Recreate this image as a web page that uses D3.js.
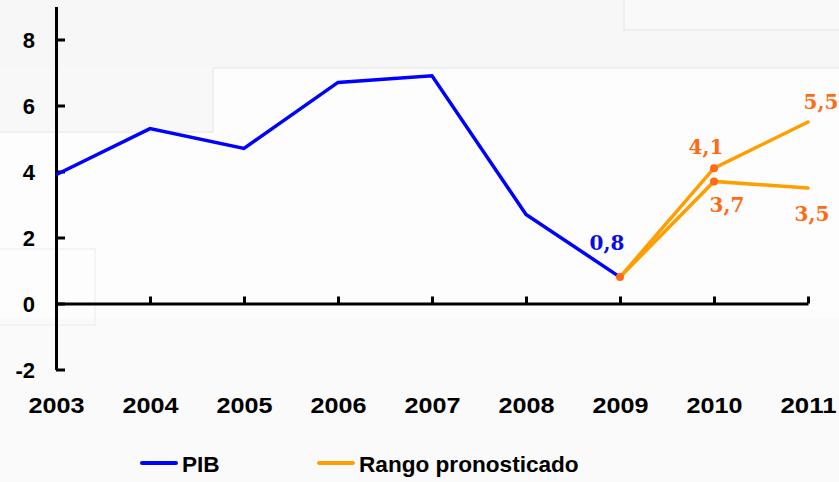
<!DOCTYPE html>
<html>
<head>
<meta charset="utf-8">
<script src="https://cdn.jsdelivr.net/npm/d3@7"></script>
<style>
  html, body { margin: 0; padding: 0; background: #fafafa; }
  svg { display: block; }
</style>
</head>
<body>
<div id="chart"></div>
<script>
// data
var years = [2003, 2004, 2005, 2006, 2007, 2008, 2009, 2010, 2011];
var pib = [3.9, 5.3, 4.7, 6.7, 6.9, 2.7, 0.8];
var rangoYears = [2009, 2010, 2011];
var rangoAlto = [0.8, 4.1, 5.5];
var rangoBajo = [0.8, 3.7, 3.5];
var yTicks = [-2, 0, 2, 4, 6, 8];
var legendNames = ["PIB", "Rango pronosticado"];

var width = 839, height = 482;
var blue = "#0000ff", orange = "#ff9e00", dotOrange = "#ff6a13";

var svg = d3.select("#chart")
    .append("svg")
    .attr("width", width)
    .attr("height", height);

// faint background panels (as in the picture)
var bg = svg.append("g");
bg.append("rect").attr("width", width).attr("height", height).attr("fill", "#fafafa");
bg.append("rect").attr("x", 0).attr("y", 68).attr("width", width).attr("height", 250).attr("fill", "#fdfdfd");
bg.append("rect").attr("x", 0).attr("y", 0).attr("width", width).attr("height", 68).attr("fill", "#f7f7f7");
bg.append("rect").attr("x", 0).attr("y", 68).attr("width", 213).attr("height", 64).attr("fill", "#f8f8f8");
bg.append("path").attr("d", "M0,132H213V68H839").attr("fill", "none").attr("stroke", "#ebebeb").attr("stroke-width", 1.5);
bg.append("rect").attr("x", 624).attr("y", -2).attr("width", 220).attr("height", 32)
    .attr("fill", "#f9f9f9").attr("stroke", "#ebebeb").attr("stroke-width", 1.5);
bg.append("rect").attr("x", -2).attr("y", 249).attr("width", 97).attr("height", 76)
    .attr("fill", "none").attr("stroke", "#efefef").attr("stroke-width", 1.2);

// scales
var x = d3.scaleLinear().domain([2003, 2011]).range([56, 808]);
var y = d3.scaleLinear().domain([-2, 9]).range([369.5, 6.5]);

// Y axis, ticks pointing right, labels on the left (plain hyphen for -2)
var yAxis = svg.append("g")
    .attr("transform", "translate(" + x(2003) + ",0)")
    .call(d3.axisLeft(y).tickValues(yTicks).tickFormat(function (d) { return String(d); })
        .tickSize(-9).tickSizeOuter(0).tickPadding(21));
yAxis.select(".domain").attr("stroke", "#000").attr("stroke-width", 3);
yAxis.selectAll(".tick line").attr("stroke", "#000").attr("stroke-width", 3);
yAxis.selectAll("text")
    .attr("font-family", "Liberation Sans, Arial, sans-serif")
    .attr("font-weight", "bold")
    .attr("font-size", "22px")
    .attr("dy", "0.36em")
    .attr("fill", "#000");

// X axis on the zero line, ticks pointing up
var xAxis = svg.append("g")
    .attr("transform", "translate(0," + y(0) + ")")
    .call(d3.axisBottom(x).tickValues(years).tickFormat(d3.format("d"))
        .tickSize(-7).tickSizeOuter(0).tickPadding(94));
xAxis.select(".domain").attr("stroke", "#000").attr("stroke-width", 3);
xAxis.selectAll(".tick line").attr("stroke", "#000").attr("stroke-width", 3);
xAxis.selectAll("text")
    .attr("font-family", "Liberation Sans, Arial, sans-serif")
    .attr("font-weight", "bold")
    .attr("font-size", "22px")
    .attr("textLength", 56)
    .attr("lengthAdjust", "spacingAndGlyphs")
    .attr("fill", "#000");

// lines
var line = d3.line()
    .x(function (d) { return x(d[0]); })
    .y(function (d) { return y(d[1]); });

function pairs(xs, vs) {
    return vs.map(function (v, i) { return [xs[i], v]; });
}

svg.append("path")
    .datum(pairs(years, pib))
    .attr("fill", "none")
    .attr("stroke", blue)
    .attr("stroke-width", 3.5)
    .attr("stroke-linejoin", "miter")
    .attr("d", line);

[rangoAlto, rangoBajo].forEach(function (serie) {
    svg.append("path")
        .datum(pairs(rangoYears, serie))
        .attr("fill", "none")
        .attr("stroke", orange)
        .attr("stroke-width", 3.5)
        .attr("stroke-linecap", "round")
        .attr("d", line);
});

// markers on 2009 and 2010
var dots = [[2009, rangoAlto[0]], [2010, rangoAlto[1]], [2010, rangoBajo[1]]];
svg.selectAll(".dot").data(dots)
    .enter().append("circle")
    .attr("class", "dot")
    .attr("cx", function (d) { return x(d[0]); })
    .attr("cy", function (d) { return y(d[1]); })
    .attr("r", 4)
    .attr("fill", dotOrange);

// value labels
var fmt = d3.formatLocale({ decimal: ",", thousands: ".", grouping: [3], currency: ["", ""] }).format(".1f");
var labels = [
    { year: 2009, value: pib[6], color: "#0a0ae6", dx: -13, dy: -27 },
    { year: 2010, value: rangoAlto[1], color: dotOrange, dx: -8, dy: -14 },
    { year: 2010, value: rangoBajo[1], color: dotOrange, dx: 13, dy: 31 },
    { year: 2011, value: rangoAlto[2], color: dotOrange, dx: 13, dy: -13 },
    { year: 2011, value: rangoBajo[2], color: dotOrange, dx: 4, dy: 33 }
];
svg.selectAll(".vlabel").data(labels)
    .enter().append("text")
    .attr("class", "vlabel")
    .attr("x", function (d) { return x(d.year) + d.dx; })
    .attr("y", function (d) { return y(d.value) + d.dy; })
    .attr("text-anchor", "middle")
    .attr("font-family", "DejaVu Serif, serif")
    .attr("font-weight", "bold")
    .attr("font-size", "20px")
    .attr("fill", function (d) { return d.color; })
    .text(function (d) { return fmt(d.value); });

// legend
var legendColors = [blue, orange];
var legendX = [142, 319];
var legend = svg.selectAll(".lineLegend").data(legendNames)
    .enter().append("g")
    .attr("class", "lineLegend")
    .attr("transform", function (d, i) { return "translate(" + legendX[i] + ",463)"; });

legend.append("line")
    .attr("x1", 0).attr("x2", 34)
    .attr("stroke", function (d, i) { return legendColors[i]; })
    .attr("stroke-width", 4)
    .attr("stroke-linecap", "round");

legend.append("text")
    .attr("x", 40)
    .attr("y", 9)
    .attr("font-family", "Liberation Sans, Arial, sans-serif")
    .attr("font-weight", "bold")
    .attr("font-size", "22.6px")
    .attr("fill", "#000")
    .text(function (d) { return d; });
</script>
</body>
</html>
